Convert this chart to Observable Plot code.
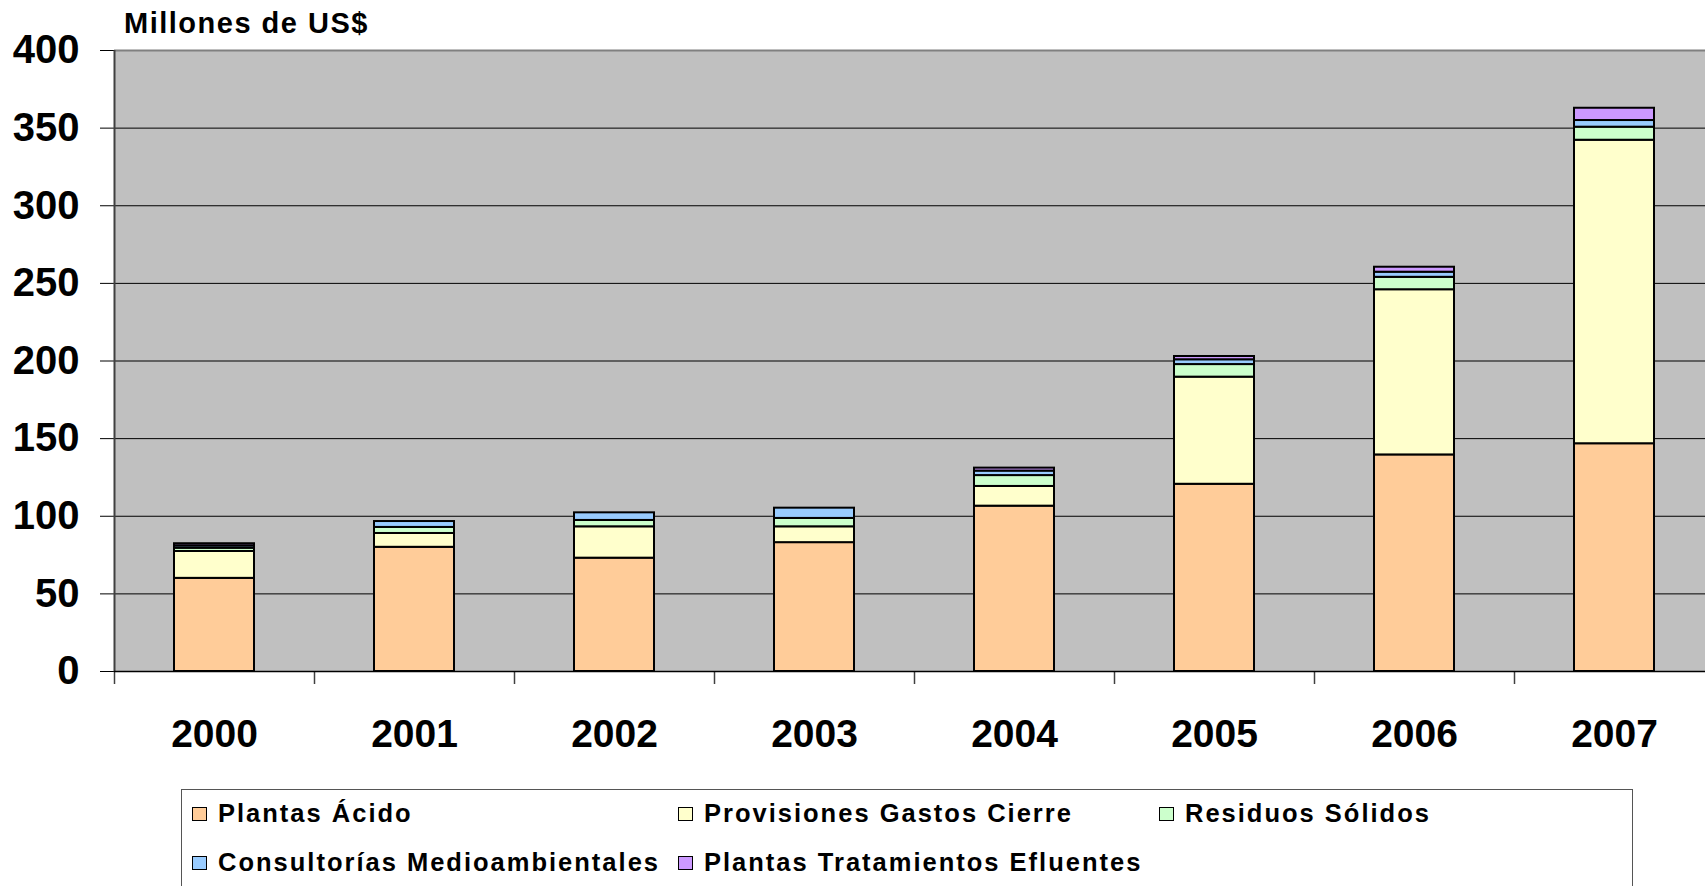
<!DOCTYPE html>
<html><head><meta charset="utf-8">
<script src="https://cdn.jsdelivr.net/npm/d3@7"></script>
<script src="https://cdn.jsdelivr.net/npm/@observablehq/plot@0.6"></script>
<style>
html,body{margin:0;padding:0;background:#fff;overflow:hidden;width:1705px;height:886px}
#wrap{position:relative;width:1705px;height:886px;font-family:"Liberation Sans",Arial,sans-serif;font-weight:bold;color:#000}
#title{position:absolute;left:124px;top:9px;font-size:29px;line-height:1;letter-spacing:1.5px;white-space:nowrap}
#chart{position:absolute;left:0;top:0}
#legend{position:absolute;left:181px;top:789px;width:1452px;height:120px;border:1px solid #555;box-sizing:border-box;background:#fff}
.item{position:absolute;display:flex;align-items:center;font-size:25.5px;line-height:1;letter-spacing:2px;white-space:nowrap}
.sw{width:15px;height:14px;border:1.5px solid #000;box-sizing:border-box;margin-right:11px;flex:none}
[aria-label^="x-axis"] text{font-size:39px;font-weight:bold}
[aria-label^="y-axis"] text{font-size:40px;font-weight:bold}
</style>
</head><body>
<div id="wrap">
  <div id="chart"></div>
  <div id="title">Millones de US$</div>
  <div id="legend"></div>
</div>
<script>
const years = ["2000","2001","2002","2003","2004","2005","2006","2007"];
const series = ["Plantas Ácido","Provisiones Gastos Cierre","Residuos Sólidos","Consultorías Medioambientales","Plantas Tratamientos Efluentes"];
const colors = ["#FFCC99","#FFFFCC","#CCFFCC","#99CCFF","#CC99FF"];
const plantasAcido   = [60, 80, 73, 83, 106.5, 120.6, 139.5, 146.7];
const provisiones    = [17.3, 8.9, 20.2, 10.2, 12.7, 69, 106.4, 195.5];
const residuos       = [2.1, 3.9, 4.1, 5.4, 7, 8.1, 8, 8.4];
const consultorias   = [1.5, 3.8, 4.9, 6.6, 2.9, 3.1, 3.3, 4.3];
const efluentes      = [1.4, 0, 0, 0, 1.9, 2.1, 3.2, 7.9];
const yTicks = [0, 50, 100, 150, 200, 250, 300, 350, 400];

const seriesValues = [plantasAcido, provisiones, residuos, consultorias, efluentes];
const data = [];
series.forEach((s, si) => years.forEach((y, yi) => {
  const v = seriesValues[si][yi];
  if (v > 0) data.push({year: y, series: s, value: v});
}));

const W = 1705, H = 780, ML = 114, MR = -9, MT = 50, MB = 109;
const step = (W - MR - ML) / years.length;
const pxPerUnit = (H - MT - MB) / 400;
const tickLen = 13;

const chart = Plot.plot({
  width: W, height: H,
  marginLeft: ML, marginRight: MR, marginTop: MT, marginBottom: MB,
  style: {fontFamily: "'Liberation Sans', Arial, sans-serif", fontWeight: "bold", color: "#000", background: "transparent", overflow: "visible"},
  x: {domain: years, paddingInner: 0.6, paddingOuter: 0.3, tickSize: 0, tickPadding: 48, label: null},
  y: {domain: [0, 400], ticks: yTicks, tickSize: 14, tickPadding: 21, label: null, tickFormat: d => String(d)},
  color: {domain: series, range: colors},
  marks: [
    Plot.frame({fill: "#C0C0C0", stroke: null}),
    Plot.ruleY(yTicks.filter(d => d > 0 && d < 400), {stroke: "#000", strokeWidth: 1}),
    Plot.ruleY([400], {stroke: "#808080", strokeWidth: 2}),
    Plot.ruleX([years[0]], {x: d => d, dx: -step / 2, y1: 0, y2: 400, stroke: "#404040", strokeWidth: 2}),
    Plot.ruleX(years, {x: d => d, dx: -step / 2, y1: 0, y2: -tickLen / pxPerUnit, stroke: "#404040", strokeWidth: 1.5}),
    Plot.barY(data, {x: "year", y: "value", fill: "series", stroke: "#000", strokeWidth: 2}),
    Plot.ruleY([0], {stroke: "#000", strokeWidth: 1.5})
  ]
});
document.getElementById("chart").appendChild(chart);

const legend = document.getElementById("legend");
const pos = [[10, 11], [496, 11], [977, 11], [10, 60], [496, 60]];
series.forEach((s, i) => {
  const d = document.createElement("div");
  d.className = "item";
  d.style.left = pos[i][0] + "px";
  d.style.top = pos[i][1] + "px";
  const sw = document.createElement("span");
  sw.className = "sw";
  sw.style.background = colors[i];
  const t = document.createElement("span");
  t.textContent = s;
  d.appendChild(sw); d.appendChild(t);
  legend.appendChild(d);
});
</script>
</body></html>
